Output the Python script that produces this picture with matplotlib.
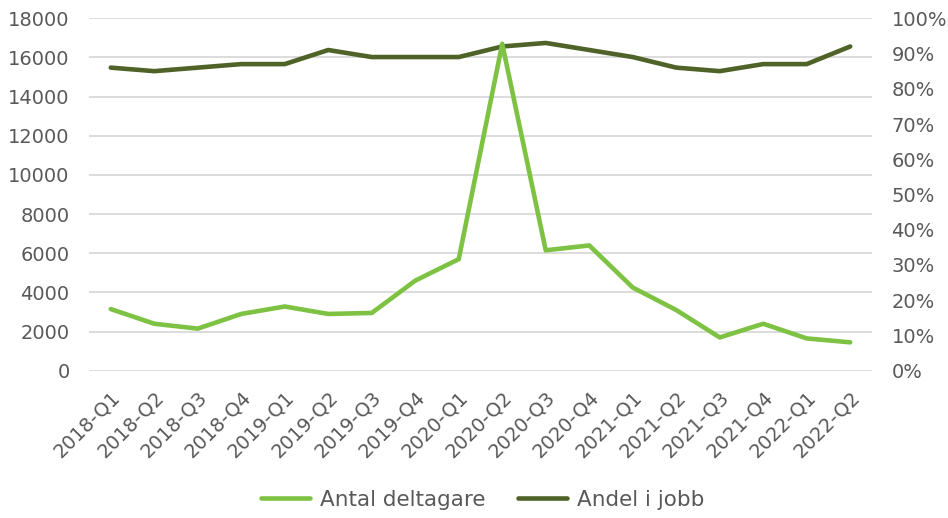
import matplotlib.pyplot as plt
from matplotlib.ticker import FuncFormatter, FixedLocator
import numpy as np

quarters = ["2018-Q1", "2018-Q2", "2018-Q3", "2018-Q4",
            "2019-Q1", "2019-Q2", "2019-Q3", "2019-Q4",
            "2020-Q1", "2020-Q2", "2020-Q3", "2020-Q4",
            "2021-Q1", "2021-Q2", "2021-Q3", "2021-Q4",
            "2022-Q1", "2022-Q2"]
antal_deltagare = [3150, 2400, 2150, 2900, 3280, 2900, 2950, 4600, 5700,
                   16700, 6150, 6400, 4250, 3100, 1700, 2400, 1650, 1450]
andel_i_jobb = [0.86, 0.85, 0.86, 0.87, 0.87, 0.91, 0.89, 0.89, 0.89,
                0.92, 0.93, 0.91, 0.89, 0.86, 0.85, 0.87, 0.87, 0.92]

green = "#7DC242"
dark = "#4F6228"
text_col = "#595959"
grid_col = "#D9D9D9"

plt.rcParams['font.family'] = ['DejaVu Sans']
plt.rcParams['font.size'] = 14

fig = plt.figure(figsize=(9.48, 5.18), dpi=100)
ax2 = fig.add_axes([0.0939, 0.2843, 0.8259, 0.6804])
ax = ax2.twinx()
ax.yaxis.tick_left()
ax2.yaxis.tick_right()
ax.set_zorder(2)
ax2.set_zorder(1)
ax.patch.set_visible(False)

x = np.arange(len(quarters))

# dark line (right axis, behind)
l2, = ax2.plot(x, andel_i_jobb, color=dark, lw=3.3, solid_capstyle='round',
               solid_joinstyle='round', label="Andel i jobb")
ax2.set_ylim(0, 1)
ax2.yaxis.set_major_locator(FixedLocator(np.arange(0, 1.01, 0.1)))
ax2.yaxis.set_major_formatter(FuncFormatter(lambda v, p: f"{v*100:.0f}%"))
# gridlines for the left axis, drawn in the back axes
ax2.yaxis.remove_overlapping_locs = False
ax2.yaxis.set_minor_locator(FixedLocator(np.arange(0, 18001, 2000) / 18000))
ax2.grid(True, which='minor', axis='y', color=grid_col, lw=1.3)
ax2.set_axisbelow(True)

# green line (left axis, front)
l1, = ax.plot(x, antal_deltagare, color=green, lw=3.3, solid_capstyle='round',
              solid_joinstyle='round', label="Antal deltagare")
ax.set_ylim(0, 18000)
ax.set_yticks(np.arange(0, 18001, 2000))

ax2.set_xlim(-0.5, len(quarters) - 0.5)
ax2.set_xticks(x)
ax2.set_xticklabels(quarters, rotation=45, ha='right', rotation_mode='anchor')

for a in (ax, ax2):
    for s in a.spines.values():
        s.set_visible(False)
    a.tick_params(axis='both', which='both', length=0, colors=text_col,
                  labelsize=14)
ax.tick_params(axis='y', pad=14)
ax2.tick_params(axis='y', pad=14)
ax2.tick_params(axis='x', pad=12)

fig.legend(handles=[l1, l2], loc='lower center', bbox_to_anchor=(0.509, -0.022),
           ncol=2, frameon=False, handlelength=2.3, handletextpad=0.45,
           columnspacing=1.5, labelcolor=text_col, fontsize=15.5)

fig.savefig("out.png", dpi=100)
